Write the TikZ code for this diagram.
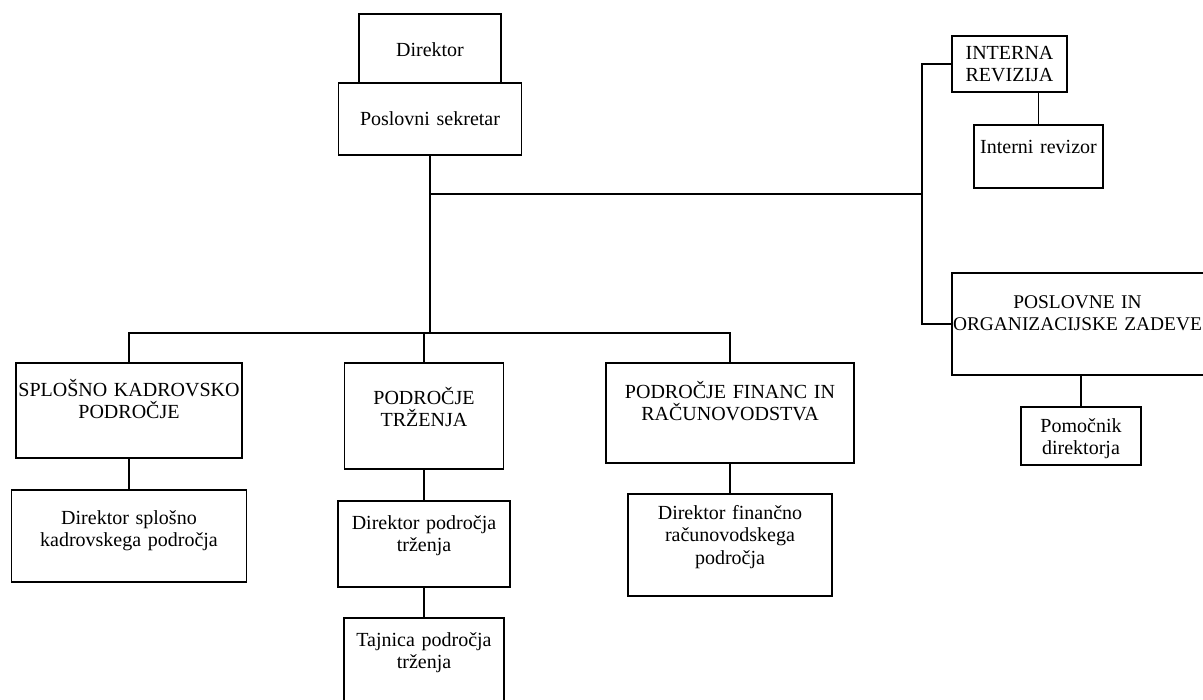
\documentclass[tikz,border=0pt]{standalone}
\usepackage{fontspec}
\setmainfont{Liberation Serif}

\begin{document}
\begin{tikzpicture}[x=1pt, y=-1pt,
        box/.style={draw, line width=1.8pt, anchor=north west, inner sep=0pt, outer sep=0pt},
        txt/.style={anchor=base, text width=300pt, align=center, inner sep=0pt,
            font=\fontsize{20}{22}\selectfont},
        link/.style={line width=1.8pt}]
    \useasboundingbox (0,0) rectangle (1203,700);
    \node[box, minimum width=142pt, minimum height=69pt,
        label={[txt, yshift=-43pt]north:Direktor}] (dir) at (359,14) {};
    \node[box, minimum width=183pt, minimum height=72pt,
        label={[txt, yshift=-43pt]north:Poslovni sekretar}] (ps) at (338.5,83) {};
    \node[box, minimum width=115pt, minimum height=56pt,
        label={[txt, yshift=-24pt]north:INTERNA\\REVIZIJA}] (ir) at (952,36) {};
    \node[box, minimum width=129pt, minimum height=63pt,
        label={[txt, yshift=-28.5pt]north:Interni revizor}] (rev) at (974,125) {};
    \node[box, minimum width=258pt, minimum height=102pt,
        label={[txt, yshift=-36pt, xshift=-3.5pt, font=\fontsize{19.4}{22}\selectfont]north:POSLOVNE IN\\ORGANIZACIJSKE ZADEVE}] (poz) at (952,273) {};
    \node[box, minimum width=120pt, minimum height=58pt,
        label={[txt, yshift=-25.5pt]north:Pomočnik\\direktorja}] (pom) at (1021,407) {};
    \node[box, minimum width=226pt, minimum height=95pt,
        label={[txt, yshift=-34pt]north:SPLOŠNO KADROVSKO\\PODROČJE}] (spl) at (16,363) {};
    \node[box, minimum width=235pt, minimum height=92pt,
        label={[txt, yshift=-35pt]north:Direktor splošno\\kadrovskega področja}] (dspl) at (11.5,490) {};
    \node[box, minimum width=159pt, minimum height=106pt,
        label={[txt, yshift=-41.5pt]north:PODROČJE\\TRŽENJA}] (trz) at (344.5,363) {};
    \node[box, minimum width=172pt, minimum height=86pt,
        label={[txt, yshift=-28.5pt]north:Direktor področja\\trženja}] (dtrz) at (338,501) {};
    \node[box, minimum width=160pt, minimum height=100pt,
        label={[txt, yshift=-28.5pt]north:Tajnica področja\\trženja}] (taj) at (344,618) {};
    \node[box, minimum width=248pt, minimum height=100pt,
        label={[txt, yshift=-35.5pt]north:PODROČJE FINANC IN\\RAČUNOVODSTVA}] (fin) at (606,363) {};
    \node[box, minimum width=204pt, minimum height=102pt,
        label={[txt, yshift=-26pt]north:Direktor finančno\\računovodskega\\področja}] (dfin) at (628,494) {};

    \coordinate (rbus) at (922,194);
    \coordinate (lbus) at (430,333);

    \draw[link] (ps.south) -- (ps.south |- lbus);
    \draw[link] (ps.south |- rbus) -- (rbus);
    \draw[link] (ir.west) -| (rbus) |- (poz.west);
    \draw[link] (rev.north) -- (rev.north |- ir.south);
    \draw[link] (pom.north) -- (pom.north |- poz.south);
    \draw[link] (spl.north) |- (lbus) -| (fin.north);
    \draw[link] (trz.north) -- (trz.north |- lbus);
    \draw[link] (dspl.north) -- (dspl.north |- spl.south);
    \draw[link] (dtrz.north) -- (dtrz.north |- trz.south);
    \draw[link] (taj.north) -- (taj.north |- dtrz.south);
    \draw[link] (dfin.north) -- (dfin.north |- fin.south);
\end{tikzpicture}
\end{document}
